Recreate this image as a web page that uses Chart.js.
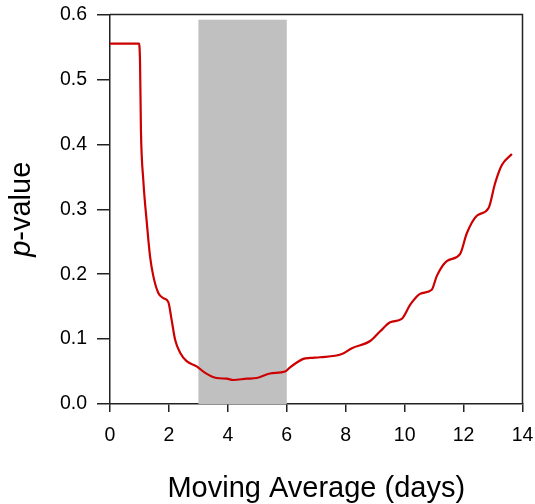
<!DOCTYPE html>
<html>
<head>
<meta charset="utf-8">
<script src="https://cdn.jsdelivr.net/npm/chart.js@4/dist/chart.umd.min.js"></script>
<style>
    body { margin: 0; background: #fff; }
    #wrap { width: 535px; height: 504px; }
</style>
</head>
<body>
<div id="wrap"><canvas id="myChart" width="535" height="504"></canvas></div>
<script>
// window length in days and the p-value it gives
const windowDays = [0, 0.5, 0.985, 1.02, 1.05, 1.13, 1.25, 1.36, 1.47, 1.64, 1.81, 1.98, 2.09, 2.21, 2.38, 2.6, 2.94,
    3.23, 3.62, 3.96, 4.19, 4.64, 4.98, 5.43, 5.94, 6.1, 6.34, 6.56, 6.79, 7.13, 7.87, 8.21, 8.83, 9.17, 9.51, 9.9,
    10.19, 10.53, 10.92, 11.09, 11.43, 11.88, 12.11, 12.45, 12.85, 13.07, 13.3, 13.64];
const pValues = [0.555, 0.555, 0.555, 0.525, 0.422, 0.345, 0.279, 0.227, 0.197, 0.171, 0.163, 0.157, 0.13, 0.099, 0.079, 0.066, 0.058,
    0.048, 0.04, 0.039, 0.037, 0.039, 0.04, 0.047, 0.05, 0.056, 0.064, 0.0695, 0.071, 0.072, 0.077, 0.086, 0.097, 0.112, 0.126, 0.131,
    0.153, 0.17, 0.176, 0.197, 0.22, 0.231, 0.263, 0.29, 0.302, 0.34, 0.368, 0.385];

// highlighted window range
const shadeFrom = 3;
const shadeTo = 6;
const shadeTop = 0.592;

const xTicks = [0, 2, 4, 6, 8, 10, 12, 14];
const yTicks = [0, 0.1, 0.2, 0.3, 0.4, 0.5, 0.6];

const axisColor = '#222';
const fontFamily = '"Liberation Sans", Arial, sans-serif';

const shadePlugin = {
    id: 'shade',
    beforeDatasetsDraw(chart) {
        let ctx = chart.ctx;
        let x = chart.scales.x;
        let y = chart.scales.y;
        let left = x.getPixelForValue(shadeFrom);
        let right = x.getPixelForValue(shadeTo);
        let top = y.getPixelForValue(shadeTop);
        let bottom = y.getPixelForValue(0);
        ctx.save();
        ctx.fillStyle = '#c0c0c0';
        ctx.fillRect(left, top, right - left, bottom - top);
        ctx.restore();
    }
};

// top and right edges of the frame, plus the y title with an italic p
const framePlugin = {
    id: 'frame',
    afterDraw(chart) {
        let ctx = chart.ctx;
        let area = chart.chartArea;
        ctx.save();
        ctx.strokeStyle = axisColor;
        ctx.lineWidth = 1.5;
        ctx.beginPath();
        ctx.moveTo(area.left, area.top);
        ctx.lineTo(area.right, area.top);
        ctx.lineTo(area.right, area.bottom);
        ctx.stroke();

        let size = 29;
        let italic = 'italic ' + size + 'px ' + fontFamily;
        let normal = size + 'px ' + fontFamily;
        ctx.font = italic;
        let w1 = ctx.measureText('p').width;
        ctx.font = normal;
        let w2 = ctx.measureText('-value').width;
        ctx.translate(30, (area.top + area.bottom) / 2);
        ctx.rotate(-Math.PI / 2);
        ctx.fillStyle = '#000';
        ctx.textBaseline = 'alphabetic';
        ctx.textAlign = 'left';
        let start = -(w1 + w2) / 2;
        ctx.font = italic;
        ctx.fillText('p', start, 0);
        ctx.font = normal;
        ctx.fillText('-value', start + w1, 0);
        ctx.restore();
    }
};

const ctx = document.getElementById('myChart').getContext('2d');

const myChart = new Chart(ctx, {
    type: 'line',
    data: {
        datasets: [{
            data: windowDays.map((d, i) => ({x: d, y: pValues[i]})),
            borderColor: '#cc0000',
            borderWidth: 2.2,
            pointRadius: 0,
            fill: false,
            cubicInterpolationMode: 'monotone'
        }]
    },
    options: {
        responsive: false,
        animation: false,
        layout: {padding: {top: 14.5, right: 12.5, bottom: 0, left: 0}},
        plugins: {
            legend: {display: false},
            tooltip: {enabled: false}
        },
        scales: {
            x: {
                type: 'linear',
                min: 0,
                max: 14,
                afterBuildTicks: (scale) => { scale.ticks = xTicks.map(v => ({value: v})); },
                afterFit: (scale) => {
                    scale.height = 100;
                    scale.paddingLeft = 0;
                    scale.paddingRight = 0;
                },
                grid: {drawOnChartArea: false, drawTicks: true, tickLength: 8, color: axisColor, lineWidth: 1.5},
                border: {display: true, color: axisColor, width: 1.5},
                ticks: {color: '#000', padding: 12, font: {family: fontFamily, size: 19.5}, maxRotation: 0},
                title: {
                    display: true,
                    text: 'Moving Average (days)',
                    color: '#000',
                    font: {family: fontFamily, size: 29},
                    padding: {top: 0, bottom: -2}
                }
            },
            y: {
                min: 0,
                max: 0.6,
                afterBuildTicks: (scale) => { scale.ticks = yTicks.map(v => ({value: v})); },
                afterFit: (scale) => {
                    scale.width = 110;
                    scale.paddingTop = 0;
                    scale.paddingBottom = 0;
                },
                grid: {drawOnChartArea: false, drawTicks: true, tickLength: 13, color: axisColor, lineWidth: 1.5},
                border: {display: true, color: axisColor, width: 1.5},
                ticks: {
                    color: '#000',
                    padding: 10,
                    font: {family: fontFamily, size: 19.5},
                    callback: (v) => v.toFixed(1)
                }
            }
        }
    },
    plugins: [shadePlugin, framePlugin]
});
</script>
</body>
</html>
